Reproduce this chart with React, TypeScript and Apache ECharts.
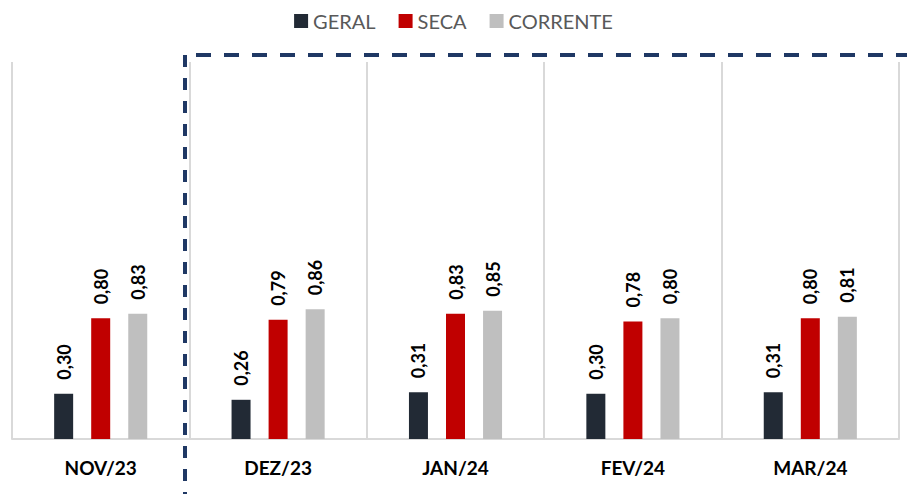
import React, { useEffect, useRef } from "react";
import * as echarts from "echarts";

const categories = ["NOV/23", "DEZ/23", "JAN/24", "FEV/24", "MAR/24"];
const geral = [0.3, 0.26, 0.31, 0.3, 0.31];
const seca = [0.8, 0.79, 0.83, 0.78, 0.8];
const corrente = [0.83, 0.86, 0.85, 0.8, 0.81];
const seriesNames = ["GERAL", "SECA", "CORRENTE"];
const colors = ["#222a35", "#c00000", "#bfbfbf"];

const FONT = "Lato, 'Open Sans', sans-serif";

export default function App() {
  const ref = useRef<HTMLDivElement>(null);
  useEffect(() => {
    if (!ref.current) return;
    const chart = echarts.init(ref.current, null, { renderer: "svg" });
    const label = {
      show: true,
      position: "top",
      rotate: 90,
      align: "left",
      verticalAlign: "middle",
      distance: 14,
      fontFamily: FONT,
      fontWeight: "bold",
      fontSize: 18,
      color: "#000000",
      formatter: (p: any) => Number(p.value).toFixed(2).replace(".", ","),
    };
    const data = [geral, seca, corrente];
    chart.setOption({
      animation: false,
      textStyle: { fontFamily: FONT },
      legend: {
        top: 6,
        left: "center",
        itemWidth: 14,
        itemHeight: 14,
        itemGap: 23,
        icon: "rect",
        textStyle: { fontSize: 20, color: "#595959", fontFamily: FONT },
        data: seriesNames,
      },
      grid: { left: 12, right: 8, top: 62, bottom: 59 },
      xAxis: {
        type: "category",
        data: categories,
        axisTick: { show: false },
        axisLine: { lineStyle: { color: "#d9d9d9", width: 2 } },
        splitLine: { show: true, lineStyle: { color: "#d9d9d9", width: 2 } },
        axisLabel: {
          margin: 19,
          fontFamily: FONT,
          fontWeight: "bold",
          fontSize: 19,
          color: "#000000",
        },
      },
      yAxis: {
        type: "value",
        min: 0,
        max: 2.5,
        show: false,
        splitLine: { show: false },
      },
      series: seriesNames.map((name, i) => ({
        name,
        type: "bar",
        data: data[i],
        barWidth: 19,
        barGap: "95%",
        itemStyle: { color: colors[i] },
        label,
      })),
      graphic: [
        {
          type: "line",
          shape: { x1: 185, y1: 55, x2: 185, y2: 494 },
          style: { stroke: "#1f3864", lineWidth: 4, lineDash: [12, 11] },
          z: 100,
        },
        {
          type: "line",
          shape: { x1: 196, y1: 55, x2: 907, y2: 55 },
          style: { stroke: "#1f3864", lineWidth: 4, lineDash: [15, 13] },
          z: 100,
        },
      ],
    });
    return () => chart.dispose();
  }, []);
  return <div ref={ref} style={{ width: 907, height: 498, position: "absolute", left: 0, top: 0 }} />;
}
